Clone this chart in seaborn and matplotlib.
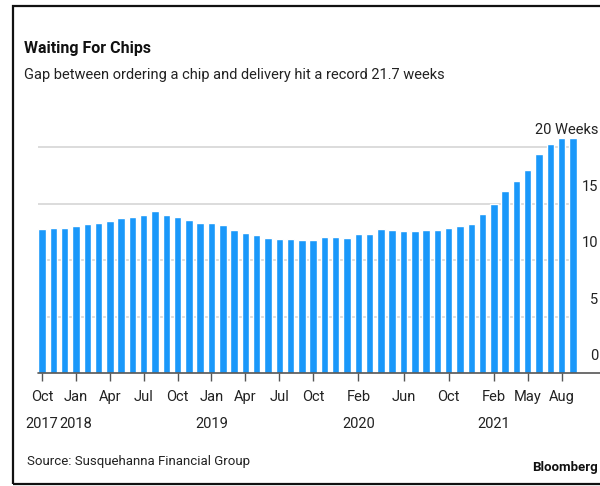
import matplotlib
matplotlib.use("Agg")
import matplotlib.pyplot as plt
import seaborn as sns
import pandas as pd
from matplotlib.patches import Rectangle

# ---- data ----
months = pd.date_range("2017-10-01", "2021-09-01", freq="MS").strftime("%Y-%m").tolist()
weeks = [12.8, 12.9, 12.9, 13.0, 13.2, 13.3, 13.5, 13.7, 13.8, 14.0, 14.4, 14.0,
         13.8, 13.6, 13.3, 13.3, 13.1, 12.7, 12.4, 12.2, 12.0, 11.9, 11.9, 11.8,
         11.8, 12.1, 12.1, 12.0, 12.3, 12.3, 12.8, 12.7, 12.6, 12.6, 12.7, 12.7,
         12.9, 13.0, 13.2, 14.1, 15.0, 16.1, 17.0, 18.0, 19.4, 20.3, 20.85, 20.85]
tick_months = ["2017-10", "2018-01", "2018-04", "2018-07", "2018-10", "2019-01",
               "2019-04", "2019-07", "2019-10", "2020-02", "2020-06", "2020-10",
               "2021-02", "2021-05", "2021-08"]
tick_labels = ["Oct\n2017", "Jan\n2018", "Apr", "Jul", "Oct", "Jan\n2019", "Apr",
               "Jul", "Oct", "Feb\n2020", "Jun", "Oct", "Feb\n2021", "May", "Aug"]
y_ticks = [0, 5, 10, 15, 20]
y_labels = ["0", "5", "10", "15", "20 Weeks"]

title = "Waiting For Chips"
subtitle = "Gap between ordering a chip and delivery hit a record 21.7 weeks"
source = "Source: Susquehanna Financial Group"

sns.set_theme(style="white")
plt.rcParams["font.family"] = ["Roboto", "DejaVu Sans"]

df = pd.DataFrame({"month": months, "weeks": weeks})

fig = plt.figure(figsize=(6.0, 4.86), dpi=100)
W, H = 600, 486
x0, x1 = 38, 577
y0 = 373.3
ppu = 11.3
ytop = 22
ax = fig.add_axes([x0 / W, 1 - y0 / H, (x1 - x0) / W, ytop * ppu / H])

sns.barplot(data=df, x="month", y="weeks", color="#1a98fa", saturation=1,
            width=0.66, ax=ax, zorder=3)

ax.set_xlim(-0.36, len(months) - 1 + 0.36)
ax.set_ylim(0, ytop)
for s in ax.spines.values():
    s.set_visible(False)

# gridlines
for v in y_ticks[1:]:
    ax.axhline(v, color="#dcdcdc", lw=1.4, zorder=1)
# baseline
ax.axhline(0, xmin=0, xmax=(W - x0) / (x1 - x0), color="#555555", lw=1.2,
           zorder=4, clip_on=False)

# y labels on the right, above gridlines
for v, lab in zip(y_ticks, y_labels):
    fig.text(598.5 / W, 1 - (y0 - v * ppu - 17) / H, lab, ha="right", va="center",
             fontsize=10.5, color="#222222")
ax.set_yticks([])

pos = [months.index(m) for m in tick_months]
ax.set_xticks(pos)
ax.set_xticklabels(tick_labels, fontsize=10.5, color="#222222", linespacing=2.2)
ax.tick_params(axis="x", bottom=True, length=6, width=1, color="#555555", pad=6)
ax.set_xlabel("")
ax.set_ylabel("")

fig.text(24 / W, 1 - 48 / H, title, fontsize=11.5, fontweight="bold",
         color="#111111", va="center")
fig.text(24 / W, 1 - 75 / H, subtitle, fontsize=10.5, color="#222222",
         va="center")
fig.text(27 / W, 1 - 461 / H, source, fontsize=9.5, color="#222222",
         va="center")
fig.text(598 / W, 1 - 468 / H, "Bloomberg", fontsize=9.5, fontweight="bold",
         color="#111111", va="center", ha="right")

# outer frame (open on the right)
fig.add_artist(Rectangle((12.5 / W, 1 - 484 / H), 700 / W, (484 - 6) / H,
                         transform=fig.transFigure, fill=False,
                         edgecolor="#111111", lw=1.6, clip_on=False))

fig.savefig("out.png", dpi=100)
